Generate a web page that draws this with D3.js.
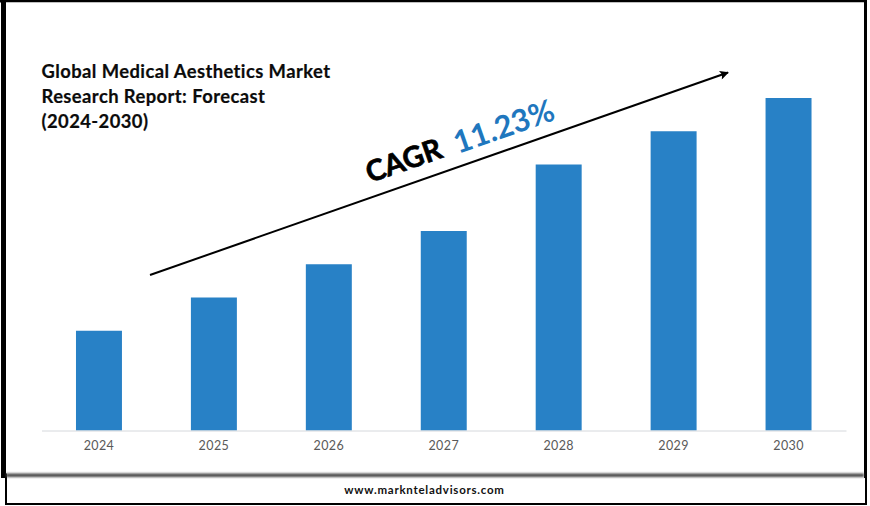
<!DOCTYPE html>
<html><head><meta charset="utf-8">
<script src="https://cdn.jsdelivr.net/npm/d3@7"></script>
<style>html,body{margin:0;padding:0;background:#fff;overflow:hidden}svg{display:block}text{font-family:Lato,"Noto Sans",sans-serif}</style>
</head><body><svg id="c" width="870" height="506"></svg>
<script>
const years = ["2024","2025","2026","2027","2028","2029","2030"];
const values = [3, 4, 5, 6, 8, 9, 10];
const titleLines = ["Global Medical Aesthetics Market","Research Report: Forecast","(2024-2030)"];
const footer = "www.marknteladvisors.com";

const svg = d3.select("#c");
const defs = svg.append("defs");
const f = defs.append("filter").attr("id","blur").attr("x","-5%").attr("y","-100%").attr("width","110%").attr("height","300%");
f.append("feGaussianBlur").attr("stdDeviation",0.8);
const m = defs.append("marker").attr("id","head").attr("viewBox","0 0 10 10").attr("refX",9).attr("refY",5)
  .attr("markerWidth",5).attr("markerHeight",4.5).attr("orient","auto").attr("markerUnits","strokeWidth");
m.append("path").attr("d","M0,0L10,5L0,10L2,5Z").attr("fill","#000");

// lower footer box
svg.append("rect").attr("x",6).attr("y",470).attr("width",860).attr("height",34).attr("fill","#fff").attr("stroke","#000").attr("stroke-width",2);
// main panel frame
svg.append("rect").attr("x",0).attr("y",0).attr("width",867).attr("height",2.5).attr("fill","#000");
svg.append("rect").attr("x",1).attr("y",0).attr("width",5).attr("height",478).attr("fill","#000");
svg.append("rect").attr("x",864).attr("y",0).attr("width",3).attr("height",478).attr("fill","#000");
svg.append("rect").attr("x",6).attr("y",2.5).attr("width",858).attr("height",471).attr("fill","#fff");
svg.append("rect").attr("x",6).attr("y",473.5).attr("width",858).attr("height",3.5).attr("fill","#444").attr("filter","url(#blur)");

const x = d3.scaleBand().domain(years).range([41.5,846]).paddingInner(0.6).paddingOuter(0.3);
const y = d3.scaleLinear().domain([0,10]).range([430.5,98]);

svg.append("g").selectAll("rect").data(years).join("rect")
  .attr("x",d=>x(d)).attr("width",x.bandwidth())
  .attr("y",(d,i)=>y(values[i])).attr("height",(d,i)=>y(0)-y(values[i]))
  .attr("fill","#2881C6");

const ax = svg.append("g").attr("transform",`translate(0,${y(0)})`).call(d3.axisBottom(x).tickSize(0).tickPadding(11));
ax.select(".domain").attr("stroke","#d5d8dc").attr("stroke-width",1);
ax.selectAll("text").attr("fill","#595959").style("font-size","12.5px").style("font-family","Lato").style("letter-spacing","0.4px");

svg.append("g").selectAll("text").data(titleLines).join("text")
  .attr("x",41.5).attr("y",(d,i)=>78+i*25)
  .attr("fill","#0b0b0b").attr("stroke","#0b0b0b").attr("stroke-width",0.2)
  .style("font-size","18.4px").style("font-weight",700).style("letter-spacing","0.42px").text(d=>d);

svg.append("line").attr("x1",150).attr("y1",275).attr("x2",728).attr("y2",72.5)
  .attr("stroke","#000").attr("stroke-width",2).attr("marker-end","url(#head)");

svg.append("text").attr("transform","translate(370,183) rotate(-19.3)")
  .attr("fill","#000").attr("stroke","#000").attr("stroke-width",0.7)
  .style("font-size","29px").style("font-weight",700).text("CAGR");
svg.append("text").attr("transform","translate(458,154) rotate(-19.3)")
  .attr("fill","#1F77BE").style("font-size","31px").style("font-weight",700).text("11.23%");

svg.append("text").attr("x",424.5).attr("y",494).attr("text-anchor","middle").attr("fill","#111")
  .style("font-size","11.5px").style("font-weight",700).style("letter-spacing","0.75px").text(footer);
</script></body></html>
